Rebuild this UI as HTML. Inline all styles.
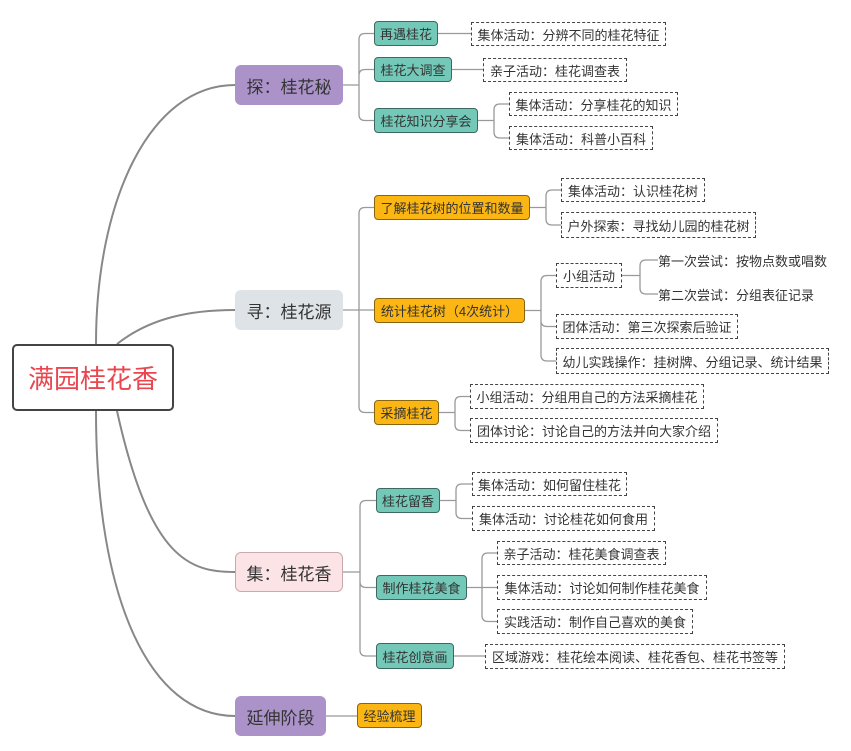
<!DOCTYPE html>
<html><head><meta charset="utf-8">
<style>
body{margin:0;background:#fff;}
#c{position:relative;width:851px;height:751px;overflow:hidden;font-family:"Liberation Sans","Noto Sans CJK SC",sans-serif;}
.n{position:absolute;box-sizing:border-box;display:flex;align-items:center;justify-content:center;white-space:nowrap;color:#333;}
.root{border:2px solid #444;border-radius:5px;color:#e8474f;font-size:26px;background:#fff;}
.l1{border-radius:6px;font-size:17px;color:#333;}
.teal{background:#74c8b8;border:1px solid #3c6a62;border-radius:4px;font-size:13px;}
.yel{background:#fbb614;border:1px solid #8a6510;border-radius:4px;font-size:13px;}
.leaf{border:1px dashed #444;background:#fff;font-size:13px;}
.txt{font-size:13px;justify-content:flex-start;}
svg{position:absolute;left:0;top:0;}
</style></head><body>
<div id="c">
<svg id="s" width="851" height="751"></svg>
</div>
<script>
var N={
root:[12,344,162,67,'root','满园桂花香'],
A:[235,65,108,40,'l1','探：桂花秘','#ab93c9'],
B:[235,290,108,40,'l1','寻：桂花源','#dde3e6'],
C:[235,552,108,40,'l1','集：桂花香','#fce4e6'],
D:[235,696,91,40,'l1','延伸阶段','#ab93c9'],
a1:[374,21,64,25,'teal','再遇桂花',null,'A'],
a2:[374,57,78,25,'teal','桂花大调查',null,'A'],
a3:[374,108,104,25,'teal','桂花知识分享会',null,'A'],
a1l:[471,22,195,24,'leaf','集体活动：分辨不同的桂花特征',null,'a1'],
a2l:[483,58,144,24,'leaf','亲子活动：桂花调查表',null,'a2'],
a3l1:[509,92,169,24,'leaf','集体活动：分享桂花的知识',null,'a3'],
a3l2:[509,126,144,24,'leaf','集体活动：科普小百科',null,'a3'],
b1:[374,195,156,25,'yel','了解桂花树的位置和数量',null,'B'],
b2:[374,298,151,25,'yel','统计桂花树（4次统计）',null,'B'],
b3:[374,400,65,25,'yel','采摘桂花',null,'B'],
b1l1:[561,178,144,24,'leaf','集体活动：认识桂花树',null,'b1'],
b1l2:[561,212,195,26,'leaf','户外探索：寻找幼儿园的桂花树',null,'b1'],
b2l1:[556,263,66,25,'leaf','小组活动',null,'b2'],
t1:[658,248,175,24,'txt','第一次尝试：按物点数或唱数',null,'b2l1'],
t2:[658,282,175,24,'txt','第二次尝试：分组表征记录',null,'b2l1'],
b2l2:[556,314,182,25,'leaf','团体活动：第三次探索后验证',null,'b2'],
b2l3:[556,348,273,26,'leaf','幼儿实践操作：挂树牌、分组记录、统计结果',null,'b2'],
b3l1:[470,384,234,25,'leaf','小组活动：分组用自己的方法采摘桂花',null,'b3'],
b3l2:[470,418,248,25,'leaf','团体讨论：讨论自己的方法并向大家介绍',null,'b3'],
c1:[376,488,64,25,'teal','桂花留香',null,'C'],
c2:[376,575,91,25,'teal','制作桂花美食',null,'C'],
c3:[376,643,78,26,'teal','桂花创意画',null,'C'],
c1l1:[472,472,155,24,'leaf','集体活动：如何留住桂花',null,'c1'],
c1l2:[472,506,183,25,'leaf','集体活动：讨论桂花如何食用',null,'c1'],
c2l1:[497,541,169,24,'leaf','亲子活动：桂花美食调查表',null,'c2'],
c2l2:[497,575,210,25,'leaf','集体活动：讨论如何制作桂花美食',null,'c2'],
c2l3:[497,609,196,25,'leaf','实践活动：制作自己喜欢的美食',null,'c2'],
c3l1:[485,644,300,25,'leaf','区域游戏：桂花绘本阅读、桂花香包、桂花书签等',null,'c3'],
d1:[357,703,65,25,'yel','经验梳理',null,'D']
};
var c=document.getElementById('c'),s=document.getElementById('s'),p='';
for(var k in N){var d=N[k],e=document.createElement('div');e.className='n '+d[4];
e.style.cssText+='left:'+d[0]+'px;top:'+d[1]+'px;width:'+d[2]+'px;height:'+d[3]+'px;';
if(d[6])e.style.background=d[6];
if(k=='C')e.style.border='1px solid #c9a9ad';
e.textContent=d[5];c.appendChild(e);
if(d[7]){var q=N[d[7]],px=q[0]+q[2],py=q[1]+q[3]/2,cx=d[0],cy=d[1]+d[3]/2,sx=Math.round((px+cx)/2);
var r=Math.min(6,Math.abs(cy-py));
if(Math.abs(cy-py)<1){p+='M'+px+' '+py+'H'+cx;}else{var sg=cy>py?1:-1;
p+='M'+px+' '+py+'H'+sx+'V'+(cy-sg*r)+'Q'+sx+' '+cy+' '+(sx+r)+' '+cy+'H'+cx;}}
}
var path=document.createElementNS('http://www.w3.org/2000/svg','path');
path.setAttribute('d',p);path.setAttribute('fill','none');path.setAttribute('stroke','#999');path.setAttribute('stroke-width','1.3');s.appendChild(path);
var m=document.createElementNS('http://www.w3.org/2000/svg','path');
m.setAttribute('d','M96 344C96 200 150 85 235 85M117 344C150 318 190 310 235 310M117 411C150 560 190 572 235 572M96 411C96 600 150 716 235 716');
m.setAttribute('fill','none');m.setAttribute('stroke','#888');m.setAttribute('stroke-width','2');s.appendChild(m);
</script>
</body></html>
